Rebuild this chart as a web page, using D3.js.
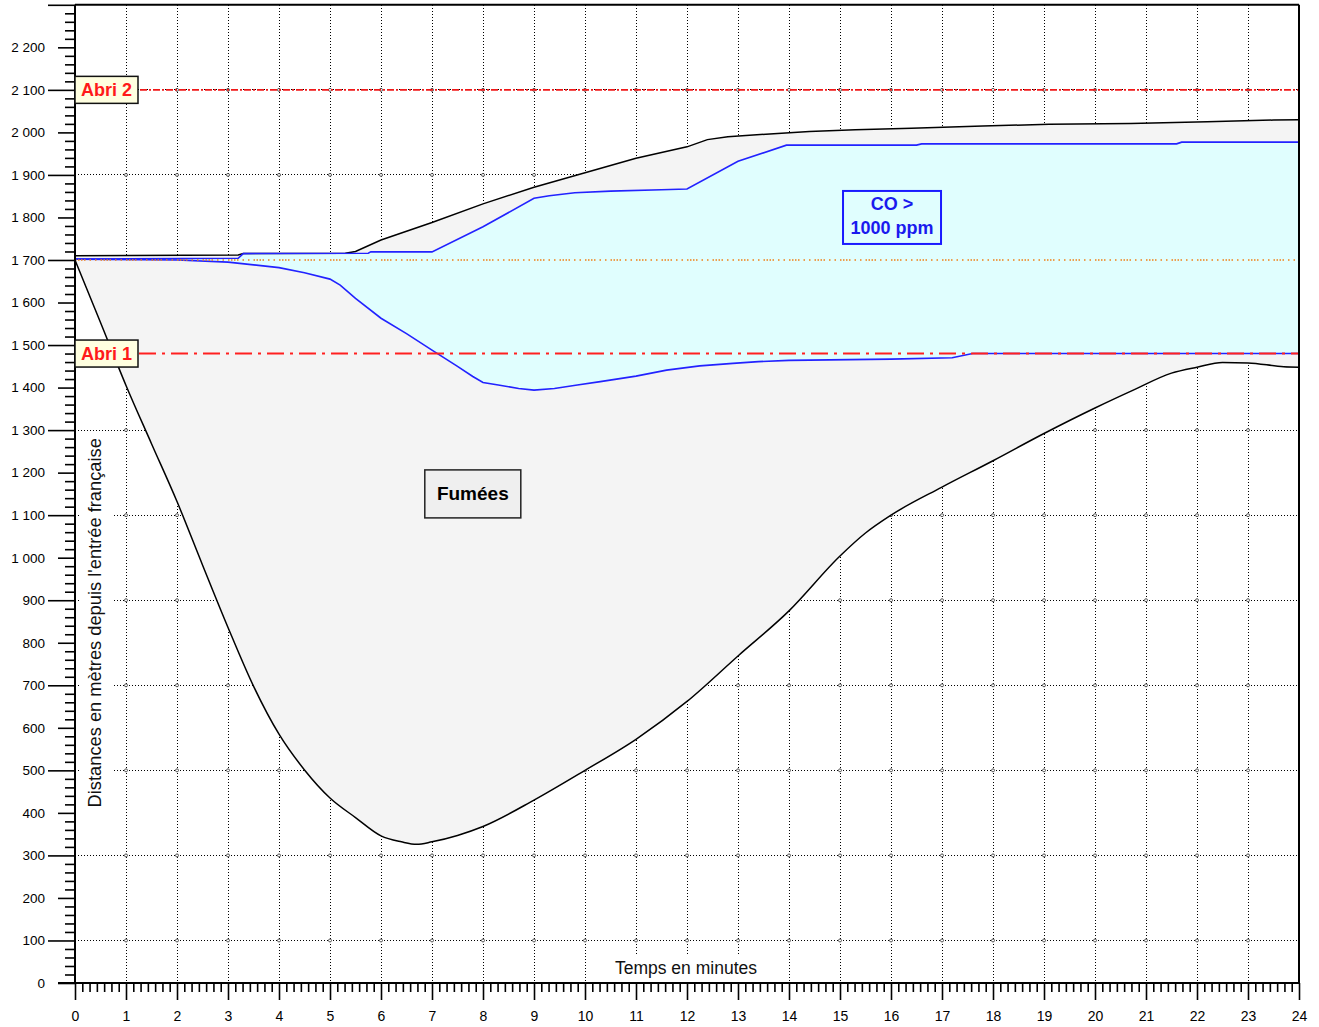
<!DOCTYPE html>
<html>
<head>
<meta charset="utf-8">
<script src="https://cdn.jsdelivr.net/npm/d3@7"></script>
<style>
  body { margin: 0; background: #fff; }
  svg { display: block; }
  text { font-family: "Liberation Sans", Arial, sans-serif; }
</style>
</head>
<body>
<svg id="chart" width="1319" height="1027"></svg>
<script>
// ---- Data: time in minutes, distance in metres from the French entrance ----
const minuteTicks = d3.range(0, 25);
const distanceTicks = d3.range(0, 2300, 100);

// Smoke front towards Italy (upper edge of the smoke zone)
const smokeUpper = [[0,1710],[3.2,1712],[3.3,1715],[5.3,1716],[5.5,1720],[6,1747],[7,1788],[8,1832],
  [9,1871],[10,1905],[11,1939],[12,1966],[12.4,1983],[12.8,1990],[13.7,1997],[14.4,2002],[15.3,2006],
  [16.4,2010],[17.8,2015],[19.1,2019],[20.7,2021],[22.2,2025],[23.5,2029],[24,2030]];

// Smoke front towards France (lower edge of the smoke zone)
const smokeLower = [[0,1700],[0.5,1553],[1,1405],[1.5,1268],[2,1132],[2.5,983],[3,836],[3.5,698],
  [4,585],[4.5,501],[5,435],[5.5,389],[6,346],[6.4,332],[6.7,326],[7,332],[7.5,347],[8,368],[9,430],
  [10,500],[11,573],[12,662],[13,769],[14,875],[15,1004],[15.5,1058],[16,1100],[17,1166],[18,1228],
  [19,1292],[20,1352],[20.75,1394],[21.5,1434],[22,1448],[22.5,1459],[23,1458],[23.7,1449],[24,1448]];

// CO > 1000 ppm zone, upper edge
const coUpper = [[0,1702],[3.2,1704],[3.3,1715],[5.75,1716],[5.8,1719],[7,1719],[8,1778],[9,1845],
  [9.3,1851],[9.8,1858],[10.5,1862],[11.5,1865],[12,1867],[13,1932],[13.95,1970],[16.5,1970],
  [16.6,1973],[21.6,1973],[21.7,1977],[24,1977]];

// CO > 1000 ppm zone, lower edge
const coLower = [[0,1702],[2,1700],[3,1695],[4,1682],[4.5,1670],[5,1655],[5.2,1641],[5.5,1610],
  [6,1563],[6.5,1527],[7,1488],[7.5,1450],[7.8,1426],[8,1412],[8.3,1406],[8.7,1398],[9,1394],
  [9.4,1398],[9.85,1406],[10.3,1414],[11,1427],[11.6,1441],[12.25,1451],[12.9,1457],[13.4,1461],
  [14,1464],[16,1467],[17.2,1470],[17.6,1480],[24,1480]];

const shelters = [{ name: "Abri 2", d: 2100 }, { name: "Abri 1", d: 1480 }];
const fireLevel = 1700;
const zoneLabels = [
  { lines: ["Fumées"], t: 7.8, d: 1150, kind: "smoke" },
  { lines: ["CO >", "1000 ppm"], t: 16.02, d: 1800, kind: "co" }
];

// ---- Scales ----
const x = d3.scaleLinear().domain([0, 24]).range([75, 1299]);
const y = d3.scaleLinear().domain([0, 2300]).range([983, 4.8]);

const svg = d3.select("#chart");
const fmt = d3.formatLocale({ decimal: ",", thousands: " ", grouping: [3], currency: ["", ""] }).format(",");

// ---- Dotted grid ----
const grid = svg.append("g").attr("shape-rendering", "crispEdges");
const gridMinutes = d3.range(1, 25);
const gridRows = d3.range(100, 2300, 200);
grid.selectAll("line.v").data(gridMinutes).join("line")
  .attr("x1", d => x(d)).attr("x2", d => x(d)).attr("y1", y(2300)).attr("y2", y(0))
  .attr("stroke", "#000").attr("stroke-width", 1).attr("stroke-dasharray", "1,2");
grid.selectAll("line.h").data(gridRows).join("line")
  .attr("x1", x(0)).attr("x2", x(24)).attr("y1", d => y(d)).attr("y2", d => y(d))
  .attr("stroke", "#000").attr("stroke-width", 1).attr("stroke-dasharray", "1,2");
const crossings = [];
gridMinutes.filter(m => m < 24).forEach(m => gridRows.forEach(r => crossings.push([m, r])));
svg.append("g").selectAll("circle").data(crossings).join("circle")
  .attr("cx", d => x(d[0])).attr("cy", d => y(d[1])).attr("r", 1.5)
  .attr("fill", "#fff").attr("stroke", "#333").attr("stroke-width", 0.8);

// Blank backgrounds behind the axis titles
svg.append("rect").attr("x", 80).attr("y", y(1300) + 1.5).attr("width", 33).attr("height", 388).attr("fill", "#fff");
svg.append("rect").attr("x", 590).attr("y", 955).attr("width", 195).attr("height", 27).attr("fill", "#fff");

// ---- Zones ----
const line = d3.line().x(d => x(d[0])).y(d => y(d[1]));
const smooth = d3.line().x(d => x(d[0])).y(d => y(d[1])).curve(d3.curveMonotoneX);
const bandPath = (upPath, lowPathReversed) => upPath + "L" + lowPathReversed.slice(1) + "Z";

svg.append("path")
  .attr("d", bandPath(line(smokeUpper), smooth(smokeLower.slice().reverse())))
  .attr("fill", "#f4f4f4");
svg.append("path")
  .attr("d", bandPath(line(coUpper), line(coLower.slice().reverse())))
  .attr("fill", "#e0fefe");

// ---- Boundary lines ----
svg.append("path").attr("d", line(smokeUpper))
  .attr("fill", "none").attr("stroke", "#000").attr("stroke-width", 1.5);
svg.append("path").attr("d", smooth(smokeLower))
  .attr("fill", "none").attr("stroke", "#000").attr("stroke-width", 1.5);
[coUpper, coLower].forEach(s => svg.append("path").attr("d", line(s))
  .attr("fill", "none").attr("stroke", "#2222ff").attr("stroke-width", 1.6));

// Fire location level
svg.append("line").attr("x1", x(0)).attr("x2", x(24)).attr("y1", y(fireLevel)).attr("y2", y(fireLevel))
  .attr("stroke", "#f07f15").attr("stroke-width", 1.6)
  .attr("stroke-dasharray", "1.5,1.5,1.5,1.5,1.5,1.5,1.5,4,1.5,4,1.5,4");

// Shelter levels
svg.append("line").attr("x1", x(0)).attr("x2", x(24)).attr("y1", y(2100)).attr("y2", y(2100))
  .attr("stroke", "#f01818").attr("stroke-width", 1.8).attr("stroke-dasharray", "7,2,2,2");
svg.append("line").attr("x1", x(0)).attr("x2", x(24)).attr("y1", y(1480)).attr("y2", y(1480))
  .attr("stroke", "#ff2020").attr("stroke-width", 2).attr("stroke-dasharray", "17,6,3,6");

// ---- Frame ----
svg.append("line").attr("x1", x(24)).attr("x2", x(24)).attr("y1", y(2300)).attr("y2", y(0))
  .attr("stroke", "#000").attr("stroke-width", 2);
svg.append("line").attr("x1", x(0)).attr("x2", x(24)).attr("y1", y(2300)).attr("y2", y(2300))
  .attr("stroke", "#000").attr("stroke-width", 2);

// ---- Y axis ----
const yAxisG = svg.append("g").attr("transform", `translate(${x(0)},0)`);
yAxisG.append("g").call(d3.axisLeft(y).tickValues(d3.range(0, 2301, 20).filter(v => v % 100)).tickSize(10).tickFormat(""));
yAxisG.append("g").call(d3.axisLeft(y).tickValues(distanceTicks.filter(v => v % 200 === 0)).tickSize(17).tickPadding(13).tickFormat(fmt));
yAxisG.append("g").call(d3.axisLeft(y).tickValues(distanceTicks.filter(v => v % 200 !== 0).concat([2300])).tickSize(27).tickPadding(3)
  .tickFormat(v => v === 2300 ? "" : fmt(v)));
yAxisG.selectAll(".domain").remove();
yAxisG.selectAll("line").attr("stroke", "#000").attr("stroke-width", 1.6);
yAxisG.selectAll("text").attr("font-size", 13.5).attr("fill", "#000")
  .style("font-family", "'Liberation Sans', Arial, sans-serif");
yAxisG.append("line").attr("x1", 0).attr("x2", 0).attr("y1", y(2300)).attr("y2", y(0))
  .attr("stroke", "#000").attr("stroke-width", 2);

// ---- X axis ----
const xAxisG = svg.append("g").attr("transform", `translate(0,${y(0)})`);
const minorMinutes = d3.range(0, 24 * 7 + 1).filter(i => i % 7).map(i => i / 7);
xAxisG.append("g").call(d3.axisBottom(x).tickValues(minorMinutes).tickSize(9).tickFormat(""));
xAxisG.append("g").call(d3.axisBottom(x).tickValues(minuteTicks).tickSize(17).tickPadding(11).tickFormat(d3.format("d")));
xAxisG.selectAll(".domain").remove();
xAxisG.selectAll("line").attr("stroke", "#000").attr("stroke-width", 1.6);
xAxisG.selectAll("text").attr("font-size", 14).attr("fill", "#000")
  .style("font-family", "'Liberation Sans', Arial, sans-serif");
xAxisG.append("line").attr("x1", x(0) - 17).attr("x2", x(24)).attr("y1", 0).attr("y2", 0)
  .attr("stroke", "#000").attr("stroke-width", 2);

// ---- Axis titles ----
svg.append("text").attr("x", x(11.98)).attr("y", 974).attr("text-anchor", "middle")
  .attr("font-size", 17.5).attr("fill", "#111").text("Temps en minutes");
svg.append("text").attr("transform", `translate(101,${y(847)}) rotate(-90)`).attr("text-anchor", "middle")
  .attr("font-size", 18.3).attr("fill", "#111").text("Distances en mètres depuis l'entrée française");

// ---- Shelter tags ----
const tags = svg.selectAll("g.tag").data(shelters).join("g")
  .attr("transform", d => `translate(${x(0)},${y(d.d)})`);
tags.append("rect").attr("x", 0).attr("y", -13.5).attr("width", 63).attr("height", 27)
  .attr("fill", "#ffffe0").attr("stroke", "#111").attr("stroke-width", 1.5);
tags.append("text").attr("x", 31.5).attr("y", 6.5).attr("text-anchor", "middle")
  .attr("font-size", 18).attr("font-weight", "bold").attr("fill", "#ff1a1a").text(d => d.name);

// ---- Zone labels ----
zoneLabels.forEach(z => {
  const g = svg.append("g").attr("transform", `translate(${x(z.t)},${y(z.d)})`);
  if (z.kind === "smoke") {
    g.append("rect").attr("x", -48).attr("y", -24).attr("width", 96).attr("height", 48)
      .attr("fill", "#efefef").attr("stroke", "#222").attr("stroke-width", 1.5);
    g.append("text").attr("y", 6.5).attr("text-anchor", "middle").attr("font-size", 19)
      .attr("font-weight", "bold").attr("fill", "#000").text(z.lines[0]);
  } else {
    g.append("rect").attr("x", -49).attr("y", -26.5).attr("width", 98).attr("height", 53)
      .attr("fill", "#e0fefe").attr("stroke", "#1a1aff").attr("stroke-width", 2);
    z.lines.forEach((t, i) => g.append("text").attr("y", -7 + i * 24).attr("text-anchor", "middle")
      .attr("font-size", 18).attr("font-weight", "bold").attr("fill", "#1a1aee").text(t));
  }
});
</script>
</body>
</html>
